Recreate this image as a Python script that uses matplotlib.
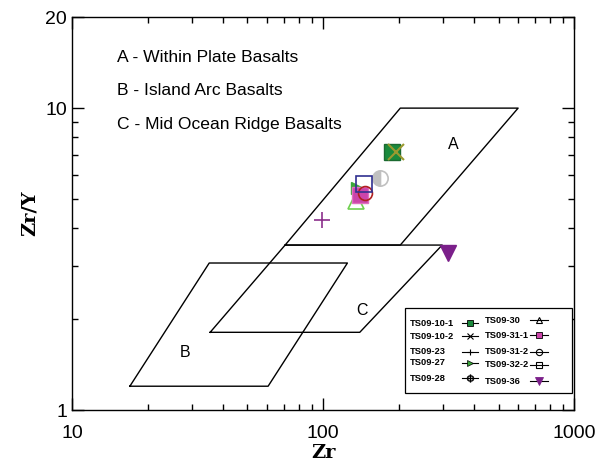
import matplotlib
matplotlib.use("Agg")
import matplotlib.pyplot as plt
from matplotlib.lines import Line2D
from matplotlib.patches import Rectangle
from matplotlib.ticker import FixedLocator, NullFormatter, LogLocator

# Field boundaries (Zr, Zr/Y)
field_A_zr = [70.6, 203, 598, 203, 70.6]
field_A_y = [3.52, 10, 10, 3.52, 3.52]
field_B_zr = [17.0, 35.2, 125, 60.4, 17.0]
field_B_y = [1.20, 3.07, 3.07, 1.20, 1.20]
field_C_zr = [35.5, 70.6, 298, 140, 35.5]
field_C_y = [1.81, 3.52, 3.52, 1.81, 1.81]

# Samples
samples = ["TS09-10-1", "TS09-10-2", "TS09-23", "TS09-27", "TS09-28",
           "TS09-30", "TS09-31-1", "TS09-31-2", "TS09-32-2", "TS09-36"]
zr = [188, 196, 99, 136, 169, 135, 140, 147, 146, 315]
zr_y = [7.15, 7.15, 4.26, 5.43, 5.87, 4.92, 5.15, 5.23, 5.6, 3.31]

styles = {
    "TS09-10-1": dict(marker="s", ms=11, mfc="#1a8a3c", mec="#1a6a30", mew=1.0),
    "TS09-10-2": dict(marker="x", ms=11, mfc="none", mec="#9a9a30", mew=1.5),
    "TS09-23": dict(marker="+", ms=11, mfc="none", mec="#8b2f8b", mew=1.2),
    "TS09-27": dict(marker=">", ms=9, mfc="#3aa83a", mec="#3aa83a", mew=1.0),
    "TS09-28": dict(marker="o", ms=11, mfc="#c0c0c0", mec="#c0c0c0", mew=1.2,
                    fillstyle="left", markerfacecoloralt="white"),
    "TS09-30": dict(marker="^", ms=11, mfc="none", mec="#6fd04f", mew=1.2),
    "TS09-31-1": dict(marker="s", ms=11, mfc="#cc44aa", mec="#e070c0", mew=1.0),
    "TS09-31-2": dict(marker="o", ms=10, mfc="none", mec="#b02020", mew=1.2),
    "TS09-32-2": dict(marker="s", ms=12, mfc="none", mec="#303090", mew=1.2),
    "TS09-36": dict(marker="v", ms=11, mfc="#7b1f8a", mec="#7b1f8a", mew=1.0),
}
legend_styles = {
    "TS09-10-1": dict(marker="s", ms=4.5, mfc="#1a8a3c", mec="black", mew=0.6),
    "TS09-10-2": dict(marker="x", ms=4.5, mfc="none", mec="black", mew=0.8),
    "TS09-23": dict(marker="+", ms=4.5, mfc="none", mec="black", mew=0.8),
    "TS09-27": dict(marker=">", ms=4.5, mfc="#3aa83a", mec="black", mew=0.5),
    "TS09-28": dict(marker="$\\Phi$", ms=5.5, mfc="black", mec="black", mew=0.3),
    "TS09-30": dict(marker="^", ms=4.5, mfc="none", mec="black", mew=0.8),
    "TS09-31-1": dict(marker="s", ms=4.5, mfc="#cc44aa", mec="black", mew=0.6),
    "TS09-31-2": dict(marker="o", ms=4.5, mfc="none", mec="black", mew=0.8),
    "TS09-32-2": dict(marker="s", ms=4.5, mfc="none", mec="black", mew=0.8),
    "TS09-36": dict(marker="v", ms=6, mfc="#7b1f8a", mec="#7b1f8a", mew=0.6),
}

plt.rcParams["font.family"] = ["Liberation Sans", "DejaVu Sans"]

fig = plt.figure(figsize=(5.95, 4.65), dpi=100)
ax = fig.add_axes([0.121, 0.118, 0.844, 0.845])
ax.set_xscale("log")
ax.set_yscale("log")
ax.set_xlim(10, 1000)
ax.set_ylim(1, 20)

for xs, ys in [(field_A_zr, field_A_y), (field_B_zr, field_B_y), (field_C_zr, field_C_y)]:
    ax.plot(xs, ys, color="black", lw=1.0, zorder=2)

for name, x, y in zip(samples, zr, zr_y):
    ax.plot([x], [y], linestyle="none", zorder=3, **styles[name])

ax.text(330, 7.6, "A", fontsize=11.5, ha="center", va="center")
ax.text(28.2, 1.556, "B", fontsize=11.5, ha="center", va="center")
ax.text(143, 2.14, "C", fontsize=11.5, ha="center", va="center")

ax.text(0.09, 0.897, "A - Within Plate Basalts", transform=ax.transAxes, fontsize=12.6, va="center")
ax.text(0.09, 0.813, "B - Island Arc Basalts", transform=ax.transAxes, fontsize=12.6, va="center")
ax.text(0.09, 0.726, "C - Mid Ocean Ridge Basalts", transform=ax.transAxes, fontsize=12.6, va="center")

ax.xaxis.set_major_locator(FixedLocator([10, 100, 1000]))
ax.set_xticklabels(["10", "100", "1000"])
ax.xaxis.set_minor_locator(LogLocator(base=10, subs=range(2, 10)))
ax.xaxis.set_minor_formatter(NullFormatter())
ax.yaxis.set_major_locator(FixedLocator([1, 10, 20]))
ax.set_yticklabels(["1", "10", "20"])
ax.yaxis.set_minor_locator(FixedLocator([2, 3, 4, 5, 6, 7, 8, 9]))
ax.yaxis.set_minor_formatter(NullFormatter())
ax.tick_params(which="major", direction="in", length=8.5, width=1.0, labelsize=14,
               top=True, right=True)
ax.tick_params(which="minor", direction="in", length=4.3, width=1.0, top=True, right=True)
ax.tick_params(axis="x", which="major", pad=11)
for s in ax.spines.values():
    s.set_linewidth(1.0)

ax.set_xlabel("Zr", fontsize=14, fontweight="bold", family="DejaVu Serif", labelpad=1)
ax.set_ylabel("Zr/Y", fontsize=14, fontweight="bold", family="DejaVu Serif", labelpad=5)

# Legend drawn as a table (labels left-aligned, line+marker to the right)
ax.add_patch(Rectangle((0.663, 0.043), 0.333, 0.217, transform=ax.transAxes,
                       facecolor="white", edgecolor="black", lw=0.9, zorder=4))
col1_rows = [0.221, 0.188, 0.148, 0.120, 0.081]
col2_rows = [0.229, 0.191, 0.148, 0.115, 0.074]
cols = [(0.673, 0.777, 0.809, col1_rows), (0.823, 0.912, 0.948, col2_rows)]
for i, name in enumerate(samples):
    tx, l0, l1, rows = cols[i // 5]
    fy = rows[i % 5]
    ax.text(tx, fy, name, transform=ax.transAxes, fontsize=6.7, fontweight="bold",
            va="center", ha="left", zorder=5)
    ax.add_line(Line2D([l0, l1], [fy, fy], transform=ax.transAxes, color="black",
                       lw=0.8, zorder=5))
    ax.add_line(Line2D([(l0 + l1) / 2], [fy], transform=ax.transAxes, linestyle="none",
                       zorder=6, **legend_styles[name]))

fig.savefig("out.png", dpi=100)
